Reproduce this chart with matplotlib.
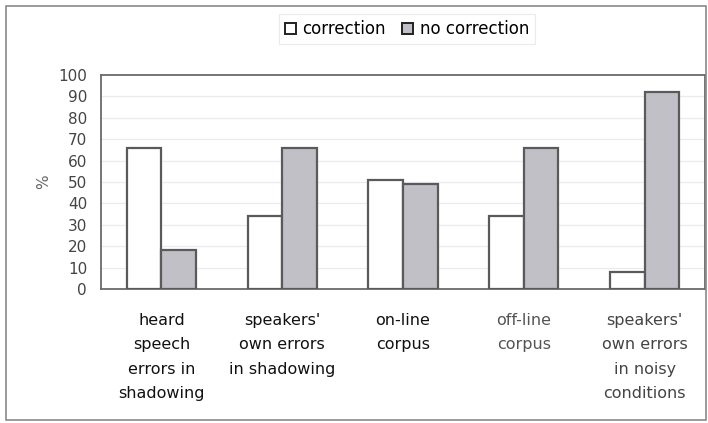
import matplotlib
matplotlib.use("Agg")
import matplotlib.pyplot as plt
import numpy as np
from matplotlib.patches import Rectangle

categories = ["heard\nspeech\nerrors in\nshadowing",
              "speakers'\nown errors\nin shadowing",
              "on-line\ncorpus",
              "off-line\ncorpus",
              "speakers'\nown errors\nin noisy\nconditions"]
correction = [66, 34, 51, 34, 8]
no_correction = [18, 66, 49, 66, 92]
yticks = list(range(0, 101, 10))

plt.rcParams['font.family'] = ['DejaVu Sans']

fig = plt.figure(figsize=(7.08, 4.23), dpi=100)
fig.patch.set_facecolor('white')
ax = fig.add_axes([101/708, 1-289/423, (705-101)/708, (289-75)/423])

x = np.arange(len(categories))
w = 0.286
edge = '#5a5a5a'
ax.bar(x - w/2, correction, w, facecolor='white', edgecolor=edge, linewidth=1.6,
       label='correction', zorder=3)
ax.bar(x + w/2, no_correction, w, facecolor='#c0c0c6', edgecolor=edge, linewidth=1.6,
       label='no correction', zorder=3)

ax.set_xlim(-0.5, len(categories) - 0.5)
ax.set_ylim(0, 100)
ax.set_yticks(yticks)
ax.set_yticklabels([str(t) for t in yticks], fontsize=11, color='#444444')
ax.set_xticks([])
for yy in yticks[1:-1]:
    ax.axhline(yy, color='#efe8f2', linewidth=0.9, zorder=1)
ax.tick_params(axis='y', length=0, pad=10)
for s in ax.spines.values():
    s.set_color('#6a6a6a')
    s.set_linewidth(1.3)

label_colors = ['#111111', '#111111', '#111111', '#555555', '#444444']
for i, (cat, c) in enumerate(zip(categories, label_colors)):
    ax.text(i, -11, cat, ha='center', va='top', fontsize=11.5, color=c,
            linespacing=1.8, transform=ax.transData)

ax.set_ylabel('%', fontsize=11, color='#666666', labelpad=5)

leg = fig.legend(loc='center', bbox_to_anchor=(407/708, 1-29/423), ncol=2,
                 fontsize=12, frameon=True, fancybox=False, edgecolor='#e6e6e6',
                 handlelength=0.65, handleheight=0.65, handletextpad=0.4,
                 columnspacing=1.0, borderpad=0.35)
leg.get_frame().set_linewidth(0.8)
for h in leg.legend_handles:
    h.set_linewidth(1.4)
    h.set_edgecolor('#222222')

fig.add_artist(Rectangle((6/708, 1-420/423), (706-6)/708, (420-6)/423,
                         transform=fig.transFigure, fill=False,
                         edgecolor='#8a8a8a', linewidth=1.2))

fig.savefig('out.png', dpi=100)
